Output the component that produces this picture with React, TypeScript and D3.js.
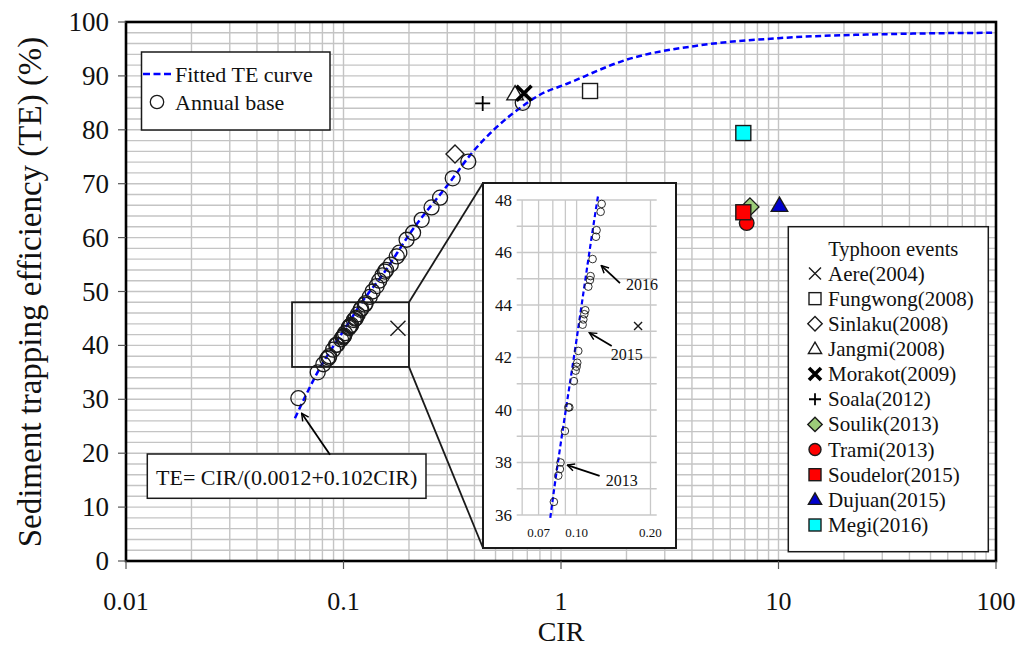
import React from "react";
import * as d3 from "d3";

// fitted TE curve
const curveCIR = [0.0598, 0.0784, 0.1, 0.1215, 0.155, 0.2, 0.318, 0.382, 0.5, 0.667, 0.8, 1.06, 2.0, 4.4, 10, 36, 100];
const curveTE = [26.5, 36.0, 42.7, 48.0, 53.7, 60.5, 71.0, 75.3, 80.3, 84.4, 86.5, 88.5, 93.0, 95.7, 97.0, 97.8, 98.0];

// annual base points
const annualCIR = [
  0.062, 0.0761, 0.0808, 0.0842, 0.0855, 0.086, 0.0896, 0.0925, 0.0934, 0.0975, 0.0991, 0.1, 0.1006,
  0.1016, 0.1058, 0.1065, 0.1075, 0.1085, 0.1116, 0.1133, 0.114, 0.1162, 0.1199, 0.1206, 0.1253,
  0.1265, 0.132, 0.136, 0.142, 0.146, 0.151, 0.155, 0.157, 0.165, 0.1757, 0.1806, 0.195, 0.2089,
  0.2288, 0.254, 0.278, 0.3178, 0.3748, 0.667,
];
const annualTE = [
  30.2, 35.0, 36.5, 37.5, 37.75, 38.0, 39.2, 40.1, 40.1, 41.1, 41.5, 41.65, 41.8,
  42.25, 43.25, 43.45, 43.65, 43.8, 44.7, 44.95, 45.1, 45.75, 46.6, 46.85, 47.55,
  47.85, 49.0, 50.0, 51.0, 52.0, 53.0, 53.7, 54.0, 55.0, 56.5, 57.2, 59.6, 60.9,
  63.3, 65.6, 67.4, 71.0, 74.1, 85.0,
];

// typhoon events
const typhoonNames = [
  "Aere(2004)", "Fungwong(2008)", "Sinlaku(2008)", "Jangmi(2008)", "Morakot(2009)", "Soala(2012)",
  "Soulik(2013)", "Trami(2013)", "Soudelor(2015)", "Dujuan(2015)", "Megi(2016)",
];
const typhoonCIR = [0.178, 1.36, 0.3256, 0.615, 0.676, 0.4365, 7.39, 7.14, 6.89, 10.1, 6.89];
const typhoonTE = [43.2, 87.2, 75.5, 86.6, 86.8, 84.9, 65.7, 62.7, 64.7, 65.9, 79.4];
const typhoonShape = ["x", "square", "diamond", "triangle", "boldx", "plus", "diamond", "circle", "square", "triangle", "square"];
const typhoonFill = ["none", "#ffffff", "#ffffff", "#ffffff", "none", "none", "#9ccc79", "#ff0000", "#ff0000", "#0000cd", "#00ffff"];

const xTicks = [0.01, 0.1, 1, 10, 100];
const xTickLabels = ["0.01", "0.1", "1", "10", "100"];
const yTicks = [0, 10, 20, 30, 40, 50, 60, 70, 80, 90, 100];

// inset (zoom of the 36-48 % range)
const insetYTicks = [36, 38, 40, 42, 44, 46, 48];
const insetXGrid = [0.06, 0.07, 0.08, 0.09, 0.1, 0.2];
const insetXTicks = [0.07, 0.1, 0.2];
const insetXTickLabels = ["0.07", "0.10", "0.20"];
const annotYears = ["2016", "2015", "2013"];
const annotTipCIR = [0.1261, 0.1127, 0.0916];
const annotTipTE = [45.5, 42.94, 37.9];
const annotTailCIR = [0.1502, 0.139, 0.1241];
const annotTailTE = [44.83, 42.44, 37.49];

const FONT = "'Liberation Serif', 'Times New Roman', serif";
const INK = "#1a1a1a";

function Marker({ shape, cx, cy, s, fill }: { shape: string; cx: number; cy: number; s: number; fill: string }) {
  const sw = 1.4;
  switch (shape) {
    case "x":
      return (
        <path d={`M${cx - s},${cy - s}L${cx + s},${cy + s}M${cx - s},${cy + s}L${cx + s},${cy - s}`} stroke={INK} strokeWidth={1.4} fill="none" />
      );
    case "boldx":
      return (
        <path d={`M${cx - s},${cy - s}L${cx + s},${cy + s}M${cx - s},${cy + s}L${cx + s},${cy - s}`} stroke="#000" strokeWidth={3.6} fill="none" />
      );
    case "plus":
      return <path d={`M${cx - s},${cy}L${cx + s},${cy}M${cx},${cy - s}L${cx},${cy + s}`} stroke="#000" strokeWidth={1.8} fill="none" />;
    case "square":
      return <rect x={cx - s} y={cy - s} width={2 * s} height={2 * s} fill={fill} stroke={INK} strokeWidth={sw} />;
    case "diamond":
      return <polygon points={`${cx},${cy - s * 1.2} ${cx + s * 1.2},${cy} ${cx},${cy + s * 1.2} ${cx - s * 1.2},${cy}`} fill={fill} stroke={INK} strokeWidth={sw} />;
    case "triangle":
      return <polygon points={`${cx},${cy - s * 1.15} ${cx + s * 1.1},${cy + s * 0.75} ${cx - s * 1.1},${cy + s * 0.75}`} fill={fill} stroke={INK} strokeWidth={sw} />;
    case "circle":
      return <circle cx={cx} cy={cy} r={s} fill={fill} stroke={INK} strokeWidth={sw} />;
    default:
      return null;
  }
}

export default function App() {
  const W = 1030;
  const H = 646;
  const x = d3.scaleLog().domain([0.01, 100]).range([126, 996]);
  const y = d3.scaleLinear().domain([0, 100]).range([561, 22]);

  const minorX: number[] = [];
  [0.01, 0.1, 1, 10].forEach((d) => {
    for (let k = 1; k < 10; k++) minorX.push(d * k);
  });
  minorX.push(100);
  const minorY = d3.range(0, 101, 2);

  const curvePts = curveCIR.map((c, i) => [c, curveTE[i]] as [number, number]);
  const line = d3
    .line<[number, number]>()
    .x((d) => x(d[0]))
    .y((d) => y(d[1]))
    .curve(d3.curveMonotoneX);

  // inset scales
  const ix = d3.scaleLog().domain([0.057, 0.212]).range([516.7, 656.7]);
  const iy = d3.scaleLinear().domain([36, 48]).range([515, 200]);
  const insetLine = d3
    .line<[number, number]>()
    .x((d) => ix(d[0]))
    .y((d) => iy(d[1]))
    .curve(d3.curveMonotoneX);
  const insetBox = { x0: 483, y0: 183, x1: 676, y1: 548 };

  const zoomRect = { c0: 0.058, c1: 0.2, t0: 36, t1: 48 };

  return (
    <svg width={W} height={H} style={{ position: "absolute", left: 0, top: 0, background: "#fff" }} fontFamily={FONT}>
      <defs>
        <marker id="arr" viewBox="0 0 10 10" refX="9" refY="5" markerWidth="9" markerHeight="9" orient="auto-start-reverse" markerUnits="userSpaceOnUse">
          <path d="M1,1L9,5L1,9" fill="none" stroke="#000" strokeWidth={1.6} />
        </marker>
        <clipPath id="plotClip">
          <rect x={126} y={22} width={870} height={539} />
        </clipPath>
        <clipPath id="insetClip">
          <rect x={516.7} y={195} width={140} height={325} />
        </clipPath>
      </defs>

      {/* grid */}
      <g stroke="#c4c4c4" strokeWidth={1.4}>
        {minorX.map((v, i) => (
          <line key={"gx" + i} x1={x(v)} x2={x(v)} y1={y(0)} y2={y(100)} />
        ))}
        {minorY.map((v) => (
          <line key={"gy" + v} x1={x(0.01)} x2={x(100)} y1={y(v)} y2={y(v)} />
        ))}
      </g>

      {/* fitted curve */}
      <path d={line(curvePts) || ""} fill="none" stroke="#0000ff" strokeWidth={2.5} strokeDasharray="6,3.5" clipPath="url(#plotClip)" />

      {/* annual base */}
      {annualCIR.map((c, i) => (
        <circle key={"a" + i} cx={x(c)} cy={y(annualTE[i])} r={7.5} fill="none" stroke={INK} strokeWidth={1.3} />
      ))}

      {/* typhoon events */}
      {typhoonCIR.map((c, i) => (
        <Marker key={"t" + i} shape={typhoonShape[i]} cx={x(c)} cy={y(typhoonTE[i])} s={typhoonShape[i] === "circle" ? 7.3 : 7.5} fill={typhoonFill[i]} />
      ))}

      {/* zoom rectangle and connectors */}
      <rect
        x={x(zoomRect.c0)}
        y={y(zoomRect.t1)}
        width={x(zoomRect.c1) - x(zoomRect.c0)}
        height={y(zoomRect.t0) - y(zoomRect.t1)}
        fill="none"
        stroke={INK}
        strokeWidth={1.8}
      />
      <line x1={x(zoomRect.c1)} y1={y(zoomRect.t1)} x2={insetBox.x0} y2={insetBox.y0} stroke={INK} strokeWidth={1.8} />
      <line x1={x(zoomRect.c1)} y1={y(zoomRect.t0)} x2={insetBox.x0} y2={insetBox.y1} stroke={INK} strokeWidth={1.8} />

      {/* legend: curve / annual */}
      <g>
        <rect x={141.5} y={52} width={188.5} height={78} fill="#fff" stroke={INK} strokeWidth={1.5} />
        <line x1={143} x2={173} y1={74} y2={74} stroke="#0000ff" strokeWidth={2.5} strokeDasharray="7,3.5" />
        <text x={175} y={74} fontSize={22} dominantBaseline="central" fill="#111">
          Fitted TE curve
        </text>
        <circle cx={157} cy={102} r={6.7} fill="none" stroke={INK} strokeWidth={1.3} />
        <text x={175} y={102} fontSize={22} dominantBaseline="central" fill="#111">
          Annual base
        </text>
      </g>

      {/* equation */}
      <rect x={147.3} y={454} width={278.7} height={44.3} fill="#fff" stroke={INK} strokeWidth={1.5} />
      <text x={286.7} y={477} fontSize={22} textAnchor="middle" dominantBaseline="central" fill="#111">
        TE= CIR/(0.0012+0.102CIR)
      </text>
      <line x1={x(0.0867)} y1={y(19.7)} x2={x(0.0642)} y2={y(27.4)} stroke="#000" strokeWidth={1.8} markerEnd="url(#arr)" />

      {/* typhoon legend */}
      <g>
        <rect x={788.3} y={226.7} width={200} height={325} fill="#fff" stroke={INK} strokeWidth={1.5} />
        <text x={893.3} y={249} fontSize={20.5} textAnchor="middle" dominantBaseline="central" fill="#111">
          Typhoon events
        </text>
        {typhoonNames.map((n, i) => {
          const cy = 273.5 + i * 25.15;
          return (
            <g key={"l" + i}>
              <Marker shape={typhoonShape[i]} cx={815} cy={cy} s={6} fill={typhoonFill[i]} />
              <text x={828} y={cy} fontSize={21} dominantBaseline="central" fill="#111">
                {n}
              </text>
            </g>
          );
        })}
      </g>

      {/* inset */}
      <g>
        <rect x={insetBox.x0} y={insetBox.y0} width={insetBox.x1 - insetBox.x0} height={insetBox.y1 - insetBox.y0} fill="#fff" stroke={INK} strokeWidth={2} />
        <g stroke="#c8c8c8" strokeWidth={1.3}>
          {d3.range(36, 49, 1).map((v) => (
            <line key={"iy" + v} x1={516.7} x2={656.7} y1={iy(v)} y2={iy(v)} />
          ))}
          {insetXGrid.map((v) => (
            <line key={"ix" + v} x1={ix(v)} x2={ix(v)} y1={iy(48)} y2={iy(36)} />
          ))}
        </g>
        <path d={insetLine(curvePts) || ""} fill="none" stroke="#0000ff" strokeWidth={2.2} strokeDasharray="5,3" clipPath="url(#insetClip)" />
        <g clipPath="url(#insetClip)">
          {annualCIR.map((c, i) =>
            c >= 0.057 && c <= 0.212 && annualTE[i] >= 35.8 && annualTE[i] <= 48.2 ? (
              <circle key={"ia" + i} cx={ix(c)} cy={iy(annualTE[i])} r={3.8} fill="none" stroke={INK} strokeWidth={0.9} />
            ) : null
          )}
          {typhoonCIR.map((c, i) =>
            c >= 0.057 && c <= 0.212 && typhoonTE[i] >= 36 && typhoonTE[i] <= 48 ? (
              <Marker key={"it" + i} shape={typhoonShape[i]} cx={ix(c)} cy={iy(typhoonTE[i])} s={4} fill={typhoonFill[i]} />
            ) : null
          )}
        </g>
        {insetYTicks.map((v) => (
          <text key={"iyl" + v} x={512} y={iy(v)} fontSize={17} textAnchor="end" dominantBaseline="central" fill="#111">
            {v}
          </text>
        ))}
        {insetXTicks.map((v, i) => (
          <text key={"ixl" + v} x={ix(v)} y={532} fontSize={13} textAnchor="middle" dominantBaseline="central" fill="#111">
            {insetXTickLabels[i]}
          </text>
        ))}
        {annotYears.map((yr, i) => (
          <g key={"an" + i}>
            <line
              x1={ix(annotTailCIR[i])}
              y1={iy(annotTailTE[i])}
              x2={ix(annotTipCIR[i])}
              y2={iy(annotTipTE[i])}
              stroke="#000"
              strokeWidth={1.8}
              markerEnd="url(#arr)"
            />
            <text
              x={ix(annotTailCIR[i]) + (i === 1 ? -1 : 6)}
              y={iy(annotTailTE[i]) + (i === 0 ? 1 : i === 1 ? 9 : 5)}
              fontSize={16}
              dominantBaseline="central"
              fill="#111"
            >
              {yr}
            </text>
          </g>
        ))}
      </g>

      {/* frame and axes */}
      <rect x={126} y={22} width={870} height={539} fill="none" stroke="#000" strokeWidth={2.6} />
      <g stroke="#555" strokeWidth={1.2}>
        {yTicks.map((v) => (
          <line key={"yt" + v} x1={118} x2={126} y1={y(v)} y2={y(v)} />
        ))}
        {xTicks.map((v) => (
          <line key={"xt" + v} x1={x(v)} x2={x(v)} y1={561} y2={569} />
        ))}
      </g>
      {yTicks.map((v) => (
        <text key={"yl" + v} x={109} y={y(v)} fontSize={27} textAnchor="end" dominantBaseline="central" fill="#111">
          {v}
        </text>
      ))}
      {xTicks.map((v, i) => (
        <text key={"xl" + v} x={x(v)} y={610} fontSize={26} textAnchor="middle" fill="#111">
          {xTickLabels[i]}
        </text>
      ))}
      <text x={561} y={641} fontSize={28} textAnchor="middle" fill="#111">
        CIR
      </text>
      <text transform={`translate(41,292) rotate(-90)`} fontSize={33} textAnchor="middle" fill="#111">
        Sediment trapping efficiency (TE) (%)
      </text>
    </svg>
  );
}
